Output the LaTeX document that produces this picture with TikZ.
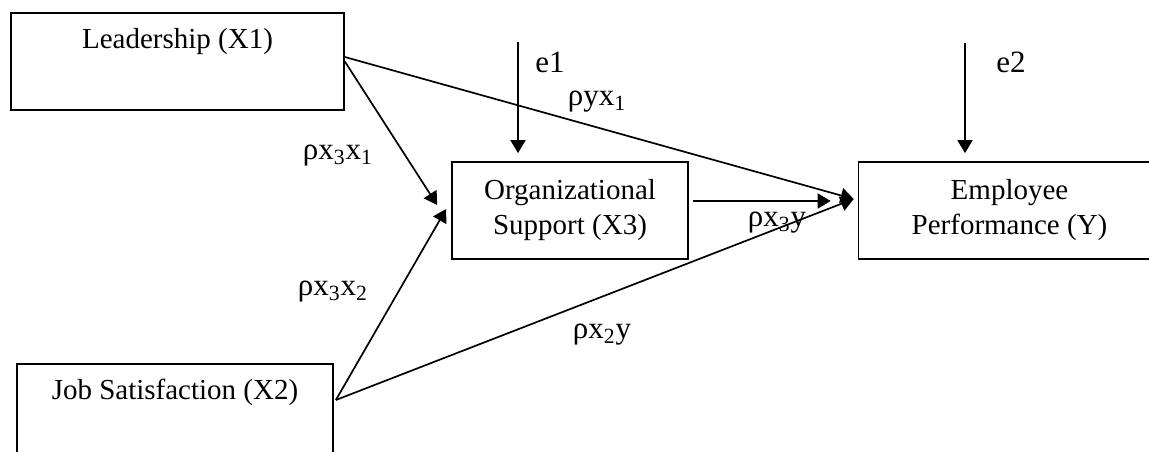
\documentclass[tikz,border=0pt]{standalone}
\usepackage{fontspec}
\setmainfont{Liberation Serif}
\usetikzlibrary{arrows.meta,positioning,calc}

\begin{document}
\begin{tikzpicture}[x=0.5pt, y=-0.5pt, line width=0.85pt,
	every node/.style={font=\fontsize{14.5}{17.5}\selectfont},
	var/.style={rectangle, draw, align=center, minimum height=48.5pt, inner sep=0pt},
	arr/.style={-{Triangle[length=6.5pt,width=7.5pt]}},
	coef/.style={font=\fontsize{15.5}{18}\selectfont, inner sep=0pt}]
	\useasboundingbox (0,0) rectangle (1149,451);
	\clip (0,0) rectangle (1149,451);
	
	\node[var, minimum width=166.5pt] (lead) at (177.5,61.5) {Leadership (X1)\\\strut};
	\node[var, minimum width=158pt] (job) at (175,412.5) {Job Satisfaction (X2)\\\strut};
	\node[var, minimum width=118pt] (org) at (570,210.5) {Organizational\\Support (X3)};
	\node[var, minimum width=151pt] (perf) at (1009.5,210.5) {Employee\\Performance (Y)};
	
	\coordinate (e1) at (518,42);
	\coordinate (e2) at (965,43);
	\coordinate (orgin1) at ($(org.west)+(-14,-5.5)$);
	\coordinate (orgin2) at ($(org.west)+(-5,-1.5)$);
	\coordinate (perfin) at ($(perf.west)+(-4,-11.5)$);
	\coordinate (jobout) at ($(job.east)+(2,-12.5)$);
	\coordinate (orgout) at ($(org.east)+(4,-9.5)$);
	
	\draw[arr, shorten >=4pt] (e1) -- (e1 |- org.north);
	\draw[arr, shorten >=4pt] (e2) -- (e2 |- perf.north);
	\draw[arr] (lead.east) -- (orgin1);
	\draw[arr] ([shift={(0,-4.5)}]lead.east) -- (perfin);
	\draw[arr] (jobout) -- (orgin2);
	\draw[arr] (jobout) -- (perfin);
	\draw[arr, shorten >=11.5pt] (orgout) -- (orgout -| perfin);
	
	\node[coef] (e1lab) at (550,62) {e1};
	\node[coef] (e2lab) at (1011,62) {e2};
	\node[coef] (pyx1) at (597,102) {ρyx\textsubscript{1}};
	\node[coef] (px3x1) at (338,156) {ρx\textsubscript{3}x\textsubscript{1}};
	\node[coef] (px3x2) at (333,292) {ρx\textsubscript{3}x\textsubscript{2}};
	\node[coef] (px2y) at (602,335) {ρx\textsubscript{2}y};
	\node[coef] (px3y) at (777,223) {ρx\textsubscript{3}y};
\end{tikzpicture}
\end{document}
